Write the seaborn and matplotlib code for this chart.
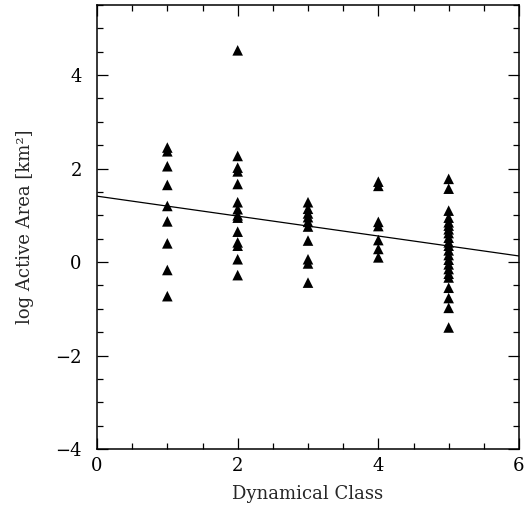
import numpy as np
import pandas as pd
import matplotlib
matplotlib.use("Agg")
import matplotlib.pyplot as plt
from matplotlib.ticker import MultipleLocator
import seaborn as sns

# Data
class1 = [2.45, 2.37, 2.05, 1.65, 1.20, 0.87, 0.40, -0.17, -0.73]
class2 = [4.53, 2.27, 2.02, 1.94, 1.67, 1.28, 1.13, 1.00, 0.95, 0.65, 0.42, 0.35, 0.06, -0.28]
class3 = [1.28, 1.14, 1.04, 0.96, 0.86, 0.76, 0.46, 0.06, -0.03, -0.44]
class4 = [1.72, 1.63, 0.86, 0.77, 0.47, 0.28, 0.10]
class5 = [1.78, 1.57, 1.10, 0.95, 0.85, 0.78, 0.70, 0.62, 0.52, 0.42, 0.35, 0.25,
          0.15, 0.05, -0.05, -0.15, -0.25, -0.33, -0.55, -0.77, -0.98, -1.40]
classes = [1, 2, 3, 4, 5]
fit_x = [0, 6]
fit_y = [1.41, 0.13]
x_ticks = [0, 2, 4, 6]
y_ticks = [-4, -2, 0, 2, 4]

rows = []
for c, vals in zip(classes, [class1, class2, class3, class4, class5]):
    for v in vals:
        rows.append({"cls": c, "area": v})
df = pd.DataFrame(rows)
fit_df = pd.DataFrame({"x": fit_x, "y": fit_y})

sns.set_theme(style="ticks")
plt.rcParams["font.family"] = ["DejaVu Serif"]
plt.rcParams["axes.unicode_minus"] = True

fig = plt.figure(figsize=(5.25, 5.08), dpi=100)
ax = fig.add_axes([97/525, 59/508, 422/525, 444/508])

sns.lineplot(data=fit_df, x="x", y="y", color="black", linewidth=0.9, ax=ax)
sns.scatterplot(data=df, x="cls", y="area", marker="^", color="black",
                s=58, edgecolor="none", ax=ax, zorder=3)

ax.set_xlim(0, 6)
ax.set_ylim(-4, 5.5)
ax.set_xticks(x_ticks)
ax.set_yticks(y_ticks)
ax.xaxis.set_minor_locator(MultipleLocator(0.5))
ax.yaxis.set_minor_locator(MultipleLocator(0.5))
ax.tick_params(which="both", direction="in", top=True, right=True, colors="black",
               labelsize=13, width=0.9)
ax.tick_params(which="major", length=8)
ax.tick_params(which="minor", length=4)
ax.tick_params(axis="x", which="major", pad=6)
ax.tick_params(axis="y", which="major", pad=11)
for s in ax.spines.values():
    s.set_linewidth(1.1)
    s.set_color("black")
ax.set_xlabel("Dynamical Class", fontsize=13, labelpad=7)
ax.set_ylabel("log Active Area [km\u00b2]", fontsize=13, labelpad=15)

fig.savefig("out.png", dpi=100)
